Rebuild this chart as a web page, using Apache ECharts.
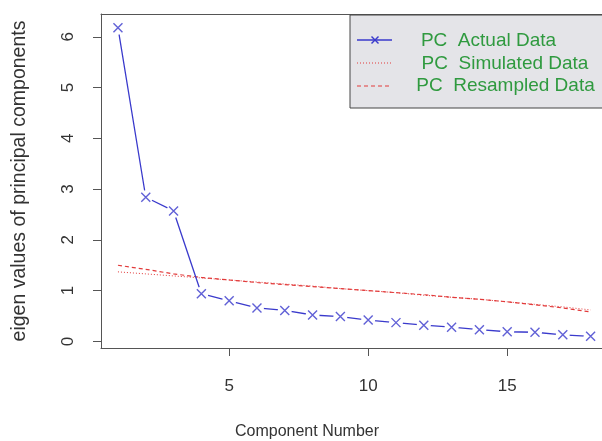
<!DOCTYPE html>
<html>
<head>
<meta charset="utf-8">
<script src="https://cdn.jsdelivr.net/npm/echarts@6/dist/echarts.min.js"></script>
<style>html,body{margin:0;padding:0;background:#fff}#c{width:602px;height:441px}</style>
</head>
<body>
<div id="c"></div>
<script>
var components = [1,2,3,4,5,6,7,8,9,10,11,12,13,14,15,16,17,18];
var actualData = [6.18,2.84,2.57,0.94,0.80,0.66,0.61,0.52,0.49,0.42,0.37,0.32,0.28,0.23,0.19,0.18,0.13,0.10];
var simulatedData = [1.37,1.33,1.29,1.25,1.21,1.17,1.13,1.09,1.04,1.00,0.96,0.91,0.87,0.83,0.78,0.73,0.68,0.62];
var resampledData = [1.50,1.42,1.33,1.26,1.21,1.16,1.12,1.08,1.04,1.00,0.96,0.92,0.87,0.83,0.78,0.72,0.66,0.58];
var xTicks = [5,10,15];
var yTicks = [0,1,2,3,4,5,6];
var legendNames = ['PC  Actual Data','PC  Simulated Data','PC  Resampled Data'];

function pairs(v){ return components.map(function(c,i){ return [c, v[i]]; }); }

var BLUE = '#3a3acc', RED = '#e23a3a', TXT = '#333', GREEN = '#2f9a3f', FRAME = '#555';
var FONT = 'Liberation Sans, Arial, sans-serif';
var xPath = 'path://M0,0L10,10M10,0L0,10';

var chart = echarts.init(document.getElementById('c'), null, {renderer:'canvas'});
chart.setOption({
  backgroundColor:'#fff',
  animation:false,
  grid:{left:101, top:14, right:0, bottom:93},
  xAxis:[
    {type:'value', min:0.39, max:18.41, position:'bottom',
      axisLine:{show:true, onZero:false, lineStyle:{color:FRAME, width:1}}, splitLine:{show:false},
      axisTick:{show:true, customValues:xTicks, length:8, lineStyle:{color:FRAME}},
      axisLabel:{customValues:xTicks, fontSize:17, color:TXT, margin:30, fontFamily:FONT}},
    {type:'value', min:0.39, max:18.41, position:'top',
      axisLine:{show:true, onZero:false, lineStyle:{color:FRAME, width:1}}, splitLine:{show:false},
      axisTick:{show:false}, axisLabel:{show:false}}
  ],
  yAxis:{type:'value', min:-0.13, max:6.45,
    axisLine:{show:true, onZero:false, lineStyle:{color:FRAME, width:1}}, splitLine:{show:false},
    axisTick:{show:true, customValues:yTicks, length:8, lineStyle:{color:FRAME}},
    axisLabel:{customValues:yTicks, fontSize:17, color:TXT, rotate:90, margin:24, fontFamily:FONT}},
  series:[
    {type:'line', data:pairs(simulatedData), showSymbol:false, z:2,
      lineStyle:{color:RED, width:1, type:[1,2]}},
    {type:'line', data:pairs(resampledData), showSymbol:false, z:2,
      lineStyle:{color:RED, width:1.2, type:[4,3]}},
    {type:'line', data:pairs(actualData), showSymbol:false, z:3,
      lineStyle:{color:BLUE, width:1.3}},
    {type:'scatter', data:pairs(actualData), symbol:'circle', symbolSize:14, z:4,
      itemStyle:{color:'#fff', opacity:1}, silent:true},
    {type:'scatter', data:pairs(actualData), symbol:xPath, symbolSize:9, z:5,
      itemStyle:{color:'none', borderColor:BLUE, borderWidth:1.4}}
  ],
  graphic:[
    {type:'text', x:20, y:181, rotation:Math.PI/2, style:{text:'eigen values of principal components', fontSize:19.5, fill:TXT, align:'center', verticalAlign:'middle', fontFamily:FONT}},
    {type:'text', x:307, y:432, style:{text:'Component Number', fontSize:16, fill:TXT, align:'center', verticalAlign:'middle', fontFamily:FONT}},
    {type:'rect', shape:{x:350, y:15, width:270, height:93}, style:{fill:'#e4e4e8', stroke:'#444', lineWidth:1}, z:10},
    {type:'line', shape:{x1:357, y1:40, x2:392, y2:40}, style:{stroke:BLUE, lineWidth:1.3}, z:11},
    {type:'line', shape:{x1:371.5, y1:36.5, x2:378.5, y2:43.5}, style:{stroke:BLUE, lineWidth:1.4}, z:12},
    {type:'line', shape:{x1:378.5, y1:36.5, x2:371.5, y2:43.5}, style:{stroke:BLUE, lineWidth:1.4}, z:12},
    {type:'line', shape:{x1:357, y1:63, x2:392, y2:63}, style:{stroke:RED, lineWidth:1, lineDash:[1,2]}, z:11},
    {type:'line', shape:{x1:357, y1:86, x2:392, y2:86}, style:{stroke:RED, lineWidth:1.2, lineDash:[4,3]}, z:11},
    {type:'text', x:488.5, y:41, style:{text:legendNames[0], fontSize:19, fill:GREEN, align:'center', verticalAlign:'middle', fontFamily:FONT}, z:12},
    {type:'text', x:505, y:64, style:{text:legendNames[1], fontSize:19, fill:GREEN, align:'center', verticalAlign:'middle', fontFamily:FONT}, z:12},
    {type:'text', x:505.5, y:86, style:{text:legendNames[2], fontSize:19, fill:GREEN, align:'center', verticalAlign:'middle', fontFamily:FONT}, z:12}
  ]
});
</script>
</body>
</html>
